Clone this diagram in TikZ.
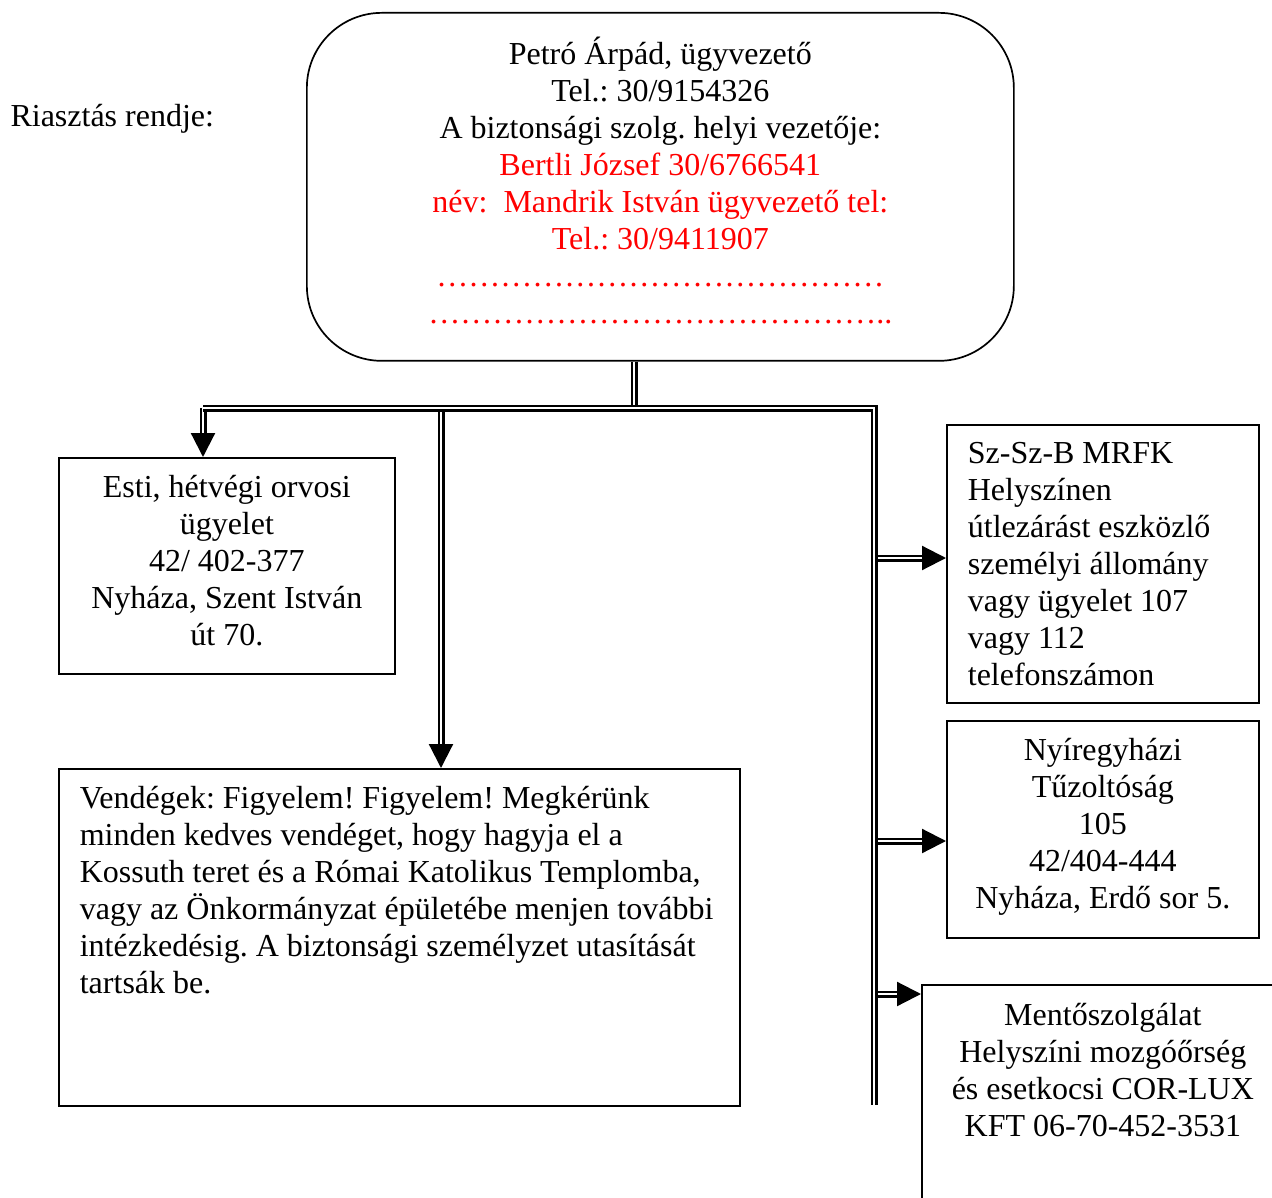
\documentclass[tikz,border=0pt]{standalone}
\usepackage{fontspec}
\setmainfont{Liberation Serif}
\usepackage{xcolor}
\usetikzlibrary{arrows.meta}
\frenchspacing

% text of a box: width, height, first baseline, alignment, lines
\newcommand{\boxtext}[5]{\parbox[c][#2][t]{#1}{#4\rule{0pt}{#3}#5}}
\newcommand{\dotrow}{\foreach \i in {1,...,14}{…}}

\tikzset{
  every node/.style={font=\fontsize{32pt}{37pt}\selectfont},
  infobox/.style={draw, line width=1.7pt, inner sep=0pt, anchor=north west},
  dblline/.style={double, double distance=2.6pt, line width=2.2pt},
  dblarrow/.style={dblline, -{Triangle[length=24pt,width=24pt]}},
}

\begin{document}
\begin{tikzpicture}[x=1pt,y=-1pt]
  \useasboundingbox (0,0) rectangle (1272,1198);
  \clip (0,0) rectangle (1272,1198);

  \node[anchor=base west] (title) at (7,127) {Riasztás rendje:};

  \node[infobox, rounded corners=75pt] (boss) at (306,12)
    {\boxtext{707pt}{348pt}{52pt}{\centering}{Petró Árpád, ügyvezető\\
     Tel.: 30/9154326\\
     A biztonsági szolg. helyi vezetője:\\
     \color{red}Bertli József 30/6766541\\
     név:\ \ Mandrik István ügyvezető tel:\\
     Tel.: 30/9411907\\
     \dotrow\\
     \dotrow..}};

  \node[infobox] (doctor) at (58,457)
    {\boxtext{336pt}{216pt}{40pt}{\centering}{Esti, hétvégi orvosi\\
     ügyelet\\ 42/ 402-377\\ Nyháza, Szent István\\ út 70.}};

  \node[infobox] (guests) at (58,768)
    {\boxtext{681pt}{337pt}{40pt}{\raggedright\leftskip=21pt}{Vendégek: Figyelem! Figyelem! Megkérünk\\
     minden kedves vendéget, hogy hagyja el a\\
     Kossuth teret és a Római Katolikus Templomba,\\
     vagy az Önkormányzat épületébe menjen további\\
     intézkedésig. A biztonsági személyzet utasítását\\
     tartsák be.}};

  \node[infobox] (police) at (946,424)
    {\boxtext{312pt}{278pt}{39pt}{\raggedright\leftskip=21pt}{Sz-Sz-B MRFK\\
     Helyszínen\\ útlezárást eszközlő\\ személyi állomány\\
     vagy ügyelet 107\\ vagy 112\\ telefonszámon}};

  \node[infobox] (fire) at (946,720)
    {\boxtext{312pt}{217pt}{40pt}{\centering}{Nyíregyházi\\
     Tűzoltóság\\ 105\\ 42/404-444\\ Nyháza, Erdő sor 5.}};

  \node[infobox] (ambulance) at (921,984)
    {\boxtext{362pt}{240pt}{41pt}{\centering}{Mentőszolgálat\\
     Helyszíni mozgóőrség\\ és esetkocsi COR-LUX\\ KFT 06-70-452-3531}};

  % bus lines
  \coordinate (stem) at (634,408);
  \coordinate (busL) at (203,408);
  \coordinate (busM) at (441,408);
  \coordinate (busR) at (874,408);
  \coordinate (busEnd) at (874,1105);
  \coordinate (tapPolice) at (874,558);
  \coordinate (tapFire) at (874,841);
  \coordinate (tapAmb) at (874,994);

  \draw[dblline] (stem |- boss.south) -- (stem);
  \draw[dblarrow] (busL) -- (busL |- doctor.north);
  \draw[dblarrow] (busM) -- (busM |- guests.north);
  \draw[dblarrow] (tapPolice) -- (tapPolice -| police.west);
  \draw[dblarrow] (tapFire) -- (tapFire -| fire.west);
  \draw[dblarrow] (tapAmb) -- (tapAmb -| ambulance.west);
  \draw[dblline] (busL) -- (busR) -- (busEnd);
\end{tikzpicture}
\end{document}
